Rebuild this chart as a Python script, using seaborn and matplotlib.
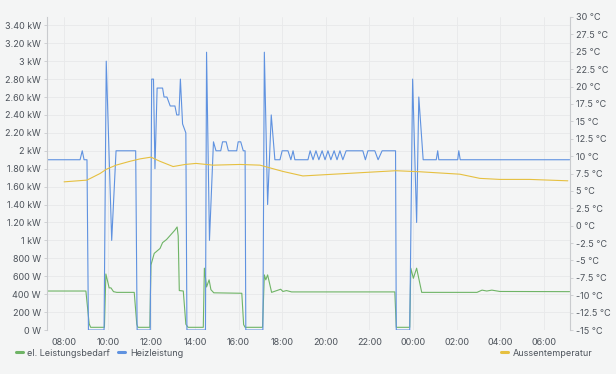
import pandas as pd
import numpy as np
import matplotlib
matplotlib.use("Agg")
import matplotlib.pyplot as plt
import matplotlib.dates as mdates
from matplotlib.ticker import FixedLocator, FuncFormatter
from matplotlib.lines import Line2D
import seaborn as sns

sns.set_style("white")
plt.rcParams['font.family'] = ['Inter', 'DejaVu Sans']

# ------------------------------
# data
# ------------------------------
heiz_time = ["07:13", "08:44", "08:50", "08:55", "09:03", "09:07", "09:50", "09:56", "10:11", "10:23",
             "11:17", "11:21", "11:57", "12:01", "12:06", "12:10", "12:16", "12:31", "12:35", "12:43",
             "12:52", "13:05", "13:10", "13:16", "13:20", "13:26", "13:35", "13:38", "14:29", "14:32",
             "14:40", "14:51", "14:58", "15:11", "15:16", "15:26", "15:32", "15:55", "15:59", "16:06",
             "16:13", "16:18", "16:20", "17:07", "17:11", "17:20", "17:30", "17:40", "17:54", "18:00",
             "18:16", "18:24", "18:30", "18:35", "19:11", "19:17", "19:25", "19:33", "19:41", "19:50",
             "19:58", "20:06", "20:14", "20:23", "20:31", "20:39", "20:47", "20:56", "21:42", "21:49",
             "21:56", "22:15", "22:24", "22:35", "23:12", "23:14", "23:51", "23:59", "00:10", "00:16",
             "00:28", "01:04", "01:08", "01:11", "02:03", "02:06", "02:10", "07:11"]
heiz_w = [1900, 1900, 2000, 1900, 1900, 0, 0, 3000, 1000, 2000,
          2000, 0, 0, 2800, 2800, 1800, 2700, 2700, 2600, 2600,
          2500, 2500, 2400, 2400, 2800, 2300, 2200, 0, 0, 3100,
          1000, 2100, 2000, 2000, 2100, 2100, 2000, 2000, 2100, 2100,
          2000, 2000, 0, 0, 3100, 1400, 2400, 1900, 1900, 2000,
          2000, 1900, 2000, 1900, 1900, 2000, 1900, 2000, 1900, 2000,
          1900, 2000, 1900, 2000, 1900, 2000, 1900, 2000, 2000, 1900,
          2000, 2000, 1900, 2000, 2000, 0, 0, 2800, 1200, 2600,
          1900, 1900, 2000, 1900, 1900, 2000, 1900, 1900]

el_time = ["07:13", "09:00", "09:09", "09:13", "09:51", "09:55", "10:04", "10:09", "10:16", "10:25",
           "11:13", "11:20", "11:23", "11:56", "11:59", "12:08", "12:24", "12:31", "12:42", "13:05",
           "13:11", "13:14", "13:17", "13:28", "13:35", "13:41", "14:23", "14:26", "14:32", "14:39",
           "14:44", "14:52", "16:09", "16:14", "16:18", "17:06", "17:11", "17:15", "17:20", "17:31",
           "17:56", "18:02", "18:12", "18:26", "23:10", "23:14", "23:51", "23:54", "00:01", "00:10",
           "00:24", "02:56", "03:10", "03:23", "03:37", "03:59", "07:11"]
el_w = [435, 435, 70, 30, 30, 625, 470, 470, 428, 420,
        420, 65, 30, 30, 725, 855, 910, 975, 1010, 1115,
        1150, 1050, 440, 435, 65, 30, 30, 690, 480, 560,
        450, 415, 410, 60, 30, 30, 615, 560, 615, 420,
        455, 430, 440, 425, 425, 30, 30, 690, 577, 690,
        420, 420, 445, 435, 445, 430, 428]

temp_time = ["08:00", "09:03", "09:39", "09:56", "10:23", "11:01", "11:29", "11:59", "12:24", "13:00",
             "13:33", "14:03", "14:50", "16:04", "16:59", "18:02", "18:57", "23:13", "00:19", "02:09",
             "03:04", "03:59", "05:21", "07:06"]
temp_c = [6.3, 6.55, 7.5, 8.1, 8.7, 9.25, 9.6, 9.85, 9.25, 8.5,
          8.8, 8.95, 8.7, 8.8, 8.7, 7.8, 7.15, 7.9, 7.75, 7.4,
          6.8, 6.65, 6.65, 6.45]


def to_dt(times, start="2024-01-15"):
    day = pd.Timestamp(start)
    out, prev = [], None
    for t in times:
        h, m = map(int, t.split(":"))
        if prev is not None and h * 60 + m < prev:
            day += pd.Timedelta(days=1)
        prev = h * 60 + m
        out.append(day + pd.Timedelta(hours=h, minutes=m))
    return out


heiz = pd.DataFrame({"time": to_dt(heiz_time), "value": heiz_w})
el = pd.DataFrame({"time": to_dt(el_time), "value": el_w})
temp = pd.DataFrame({"time": to_dt(temp_time), "value": temp_c})

GREEN = "#6fb466"
BLUE = "#5f92e0"
YELLOW = "#e6c040"
BG = "#f4f5f5"
TXT = "#4d535b"

# ------------------------------
# plot
# ------------------------------
fig = plt.figure(figsize=(6.16, 3.74), dpi=100, facecolor=BG)
ax = fig.add_axes([47 / 616, 1 - 330 / 374, (570 - 47) / 616, (330 - 17) / 374])
ax.set_facecolor(BG)

sns.lineplot(data=el, x="time", y="value", ax=ax, color=GREEN, lw=0.8, legend=False)
sns.lineplot(data=heiz, x="time", y="value", ax=ax, color=BLUE, lw=0.8, legend=False)

ax2 = ax.twinx()
sns.lineplot(data=temp, x="time", y="value", ax=ax2, color=YELLOW, lw=0.8, legend=False)

ax.set_xlim(pd.Timestamp("2024-01-15 07:13"), pd.Timestamp("2024-01-16 07:12"))
ax.set_ylim(0, 3493)
ax2.set_ylim(-15, 30)

ax.xaxis.set_major_locator(mdates.HourLocator(byhour=range(0, 24, 2)))
ax.xaxis.set_major_formatter(mdates.DateFormatter("%H:%M"))


def fmt_w(v, pos):
    if v < 1000:
        return f"{v:.0f} W"
    if v % 1000 == 0:
        return f"{v / 1000:.0f} kW"
    return f"{v / 1000:.2f} kW"


def fmt_c(v, pos):
    if float(v).is_integer():
        return f"{v:.0f} °C"
    return f"{v:.1f} °C"


ax.yaxis.set_major_locator(FixedLocator(np.arange(0, 3401, 200)))
ax.yaxis.set_major_formatter(FuncFormatter(fmt_w))
ax2.yaxis.set_major_locator(FixedLocator(np.arange(-15, 30.1, 2.5)))
ax2.yaxis.set_major_formatter(FuncFormatter(fmt_c))

ax.set_xlabel("")
ax.set_ylabel("")
ax2.set_ylabel("")

ax.grid(True, color="#e8e9ea", lw=0.6)
for a in (ax, ax2):
    for s in ("top", "bottom"):
        a.spines[s].set_visible(False)
    a.tick_params(labelsize=6.5, colors=TXT, length=2.5, width=0.6, pad=2)
ax.spines["left"].set_color("#c9cbce")
ax.spines["right"].set_visible(False)
ax2.spines["left"].set_visible(False)
ax2.spines["right"].set_color("#c9cbce")
ax.tick_params(axis="x", length=0, pad=6)
ax.tick_params(axis="y", color="#c9cbce", labelcolor=TXT)
ax2.tick_params(axis="y", color="#c9cbce", labelcolor=TXT)

# legends
h_left = [Line2D([0], [0], color=GREEN, lw=2.2), Line2D([0], [0], color=BLUE, lw=2.2)]
fig.legend(h_left, ["el. Leistungsbedarf", "Heizleistung"], loc="center left",
           bbox_to_anchor=(0.012, 1 - 353 / 374), ncol=2, frameon=False, fontsize=6.5,
           handlelength=0.8, handletextpad=0.5, columnspacing=0.9, labelcolor=TXT)
h_right = [Line2D([0], [0], color=YELLOW, lw=2.2)]
fig.legend(h_right, ["Aussentemperatur"], loc="center right",
           bbox_to_anchor=(0.975, 1 - 353 / 374), frameon=False, fontsize=6.5,
           handlelength=0.8, handletextpad=0.5, labelcolor=TXT)

fig.savefig("out.png", dpi=100, facecolor=BG)
